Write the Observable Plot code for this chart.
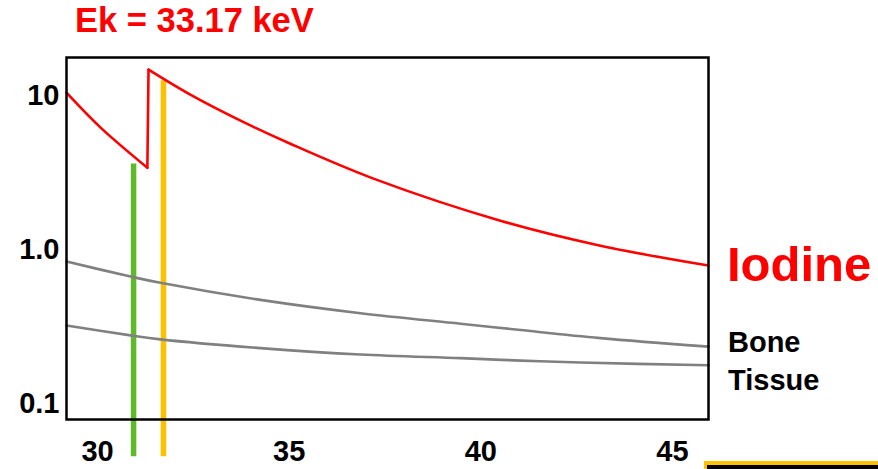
<!DOCTYPE html>
<html>
<head>
<meta charset="utf-8">
<script src="https://cdn.jsdelivr.net/npm/d3@7"></script>
<script src="https://cdn.jsdelivr.net/npm/@observablehq/plot@0.6"></script>
<style>
  html, body { margin: 0; padding: 0; background: white; }
  #wrap { position: relative; width: 878px; height: 469px; overflow: hidden; font-family: "Liberation Sans", Arial, sans-serif; font-weight: bold; }
  .lbl { position: absolute; line-height: 1; white-space: nowrap; }
  #chart { position: absolute; left: 0; top: 0; }
</style>
</head>
<body>
<div id="wrap">
  <div id="chart"></div>
  <div class="lbl" id="title" style="left:75px; top:3px; font-size:34.5px; color:#FF0000;">Ek = 33.17 keV</div>
  <div class="lbl" style="left:727px; top:240px; font-size:49px; color:#FF0000;">Iodine</div>
  <div class="lbl" style="left:728px; top:328px; font-size:29px; color:#000;">Bone</div>
  <div class="lbl" style="left:728px; top:366px; font-size:29px; color:#000;">Tissue</div>
  <div style="position:absolute; left:704px; top:461px; width:180px; height:12px; background:#000; border-top:4px solid #FFC000; border-left:3px solid #FFC000;"></div>
</div>
<script>
// Energy (keV) and mass attenuation values
const iodinePreX = [29.19, 30.08, 31.30];
const iodinePreY = [10.46, 6.2, 3.40];
const iodinePostX = [31.33, 32.42, 33.73, 35.03, 37.20, 40.51, 43.12, 45.94];
const iodinePostY = [14.75, 10.15, 6.88, 4.87, 2.89, 1.54, 1.06, 0.787];
const boneX = [29.19, 30.86, 31.64, 34.25, 36.86, 39.47, 41.04, 43.12, 45.94];
const boneY = [0.836, 0.668, 0.608, 0.471, 0.386, 0.330, 0.300, 0.266, 0.234];
const tissueX = [29.19, 30.86, 31.64, 34.25, 36.86, 39.47, 41.04, 42.60, 45.94];
const tissueY = [0.321, 0.277, 0.261, 0.229, 0.208, 0.197, 0.190, 0.1845, 0.177];
const markerNames = ["green", "orange"];
const markerX = [30.94, 31.72];
const markerTop = [3.6, 12.5];
const markerBottom = [0.045, 0.045];
const markerColors = ["#5DBB2A", "#FFC000"];
const xTicks = [30, 35, 40, 45];
const yTicks = [0.1, 1, 10];
const yTickLabels = ["0.1", "1.0", "10"];

const iodine = [
  ...iodinePreX.map((x, i) => ({seg: "pre", x, y: iodinePreY[i]})),
  {seg: "edge", x: iodinePreX[iodinePreX.length - 1], y: iodinePreY[iodinePreY.length - 1]},
  {seg: "edge", x: iodinePostX[0], y: iodinePostY[0]},
  ...iodinePostX.map((x, i) => ({seg: "post", x, y: iodinePostY[i]}))
];
const bone = boneX.map((x, i) => ({x, y: boneY[i]}));
const tissue = tissueX.map((x, i) => ({x, y: tissueY[i]}));
const markers = markerNames.map((n, i) => ({name: n, x: markerX[i], y1: markerTop[i], y2: markerBottom[i], color: markerColors[i]}));

const chart = Plot.plot({
  width: 878,
  height: 469,
  marginLeft: 66,
  marginRight: 170,
  marginTop: 57,
  marginBottom: 50,
  style: {fontFamily: "'Liberation Sans', Arial, sans-serif", color: "black", background: "transparent"},
  x: {domain: [29.19, 45.94]},
  y: {type: "log", domain: [0.0787, 17.7]},
  marks: [
    Plot.ruleX(markers, {x: "x", y1: "y1", y2: "y2", stroke: "color", strokeWidth: 5.5, clip: false}),
    Plot.line(bone, {x: "x", y: "y", stroke: "#808080", strokeWidth: 2.6, curve: "catmull-rom"}),
    Plot.line(tissue, {x: "x", y: "y", stroke: "#808080", strokeWidth: 2.6, curve: "catmull-rom"}),
    Plot.line(iodine, {x: "x", y: "y", z: "seg", stroke: "#FF0000", strokeWidth: 2.6, curve: "catmull-rom", strokeLinecap: "round", strokeLinejoin: "round"}),
    Plot.frame({stroke: "black", strokeWidth: 2.5}),
    Plot.axisX({ticks: xTicks, tickSize: 0, tickPadding: 21, fontSize: 29, fontWeight: "bold", label: null, tickFormat: d => String(d)}),
    Plot.axisY({ticks: yTicks, tickSize: 0, tickPadding: 7, fontSize: 29, fontWeight: "bold", label: null, tickFormat: d => yTickLabels[yTicks.indexOf(d)]})
  ]
});
document.getElementById("chart").appendChild(chart);
</script>
</body>
</html>
